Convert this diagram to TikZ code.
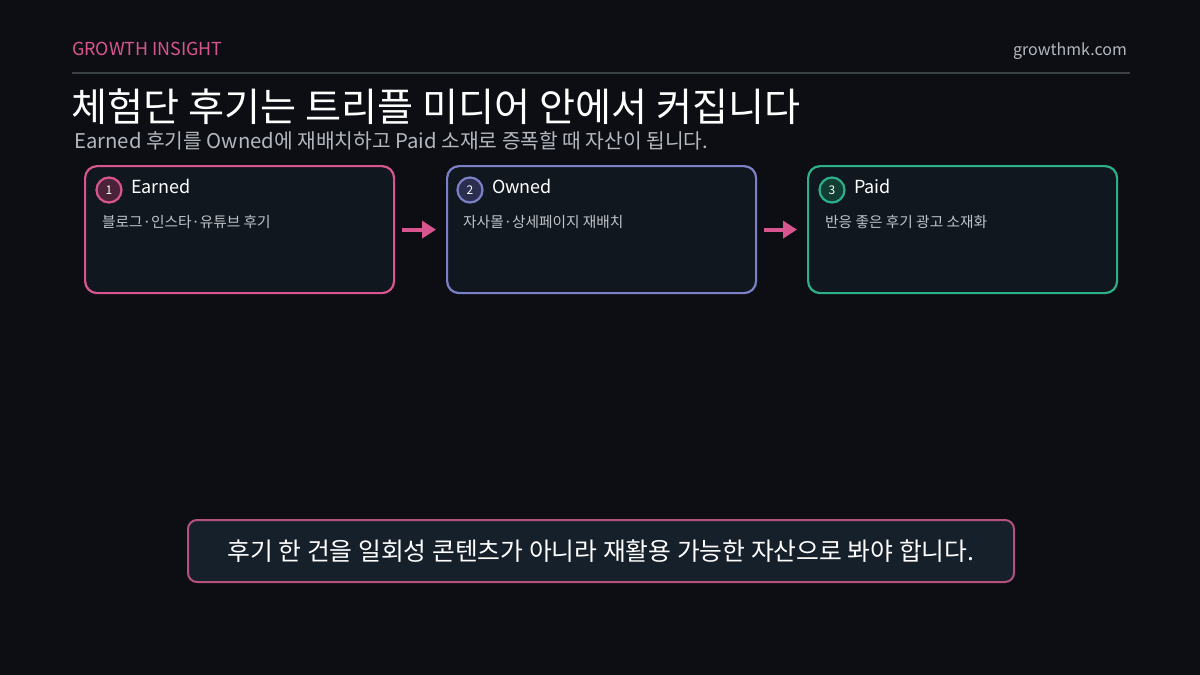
\documentclass[tikz,border=0pt]{standalone}
\usepackage{fontspec}
\setmainfont{Noto Sans CJK KR}
\usetikzlibrary{arrows.meta}
\definecolor{bgc}{HTML}{0C0E13}
\definecolor{boxfill}{HTML}{11171E}
\definecolor{pinkc}{HTML}{D9558F}
\definecolor{bluec}{HTML}{7C80C6}
\definecolor{greenc}{HTML}{2DB089}
\definecolor{pinkd}{HTML}{4A2339}
\definecolor{blued}{HTML}{2B2E4E}
\definecolor{greend}{HTML}{123D33}
\definecolor{graytxt}{HTML}{B3B8C0}
\definecolor{desctxt}{HTML}{BFC3CA}
\definecolor{rulec}{HTML}{3A3E45}
\definecolor{notefill}{HTML}{16202B}
\definecolor{noteborder}{HTML}{B5507F}
\tikzset{
  x=1pt, y=-1pt,
  card/.style={draw=#1, line width=2.2pt, rounded corners=12pt, fill=boxfill, minimum width=309pt, minimum height=127pt, inner sep=0pt},
  numc/.style={circle, draw=#1, line width=2.2pt, minimum size=25pt, inner sep=0pt, text=white, font=\fontsize{12}{12}\selectfont},
  ctitle/.style={anchor=base west, text=white, font=\fontsize{18}{18}\selectfont, inner sep=0pt},
  cdesc/.style={anchor=base west, text=desctxt, font=\fontsize{14.7}{14.7}\selectfont, inner sep=0pt},
  flow/.style={draw=pinkc, line width=4pt, -{Triangle[length=14pt,width=17pt]}},
}
\begin{document}
\begin{tikzpicture}
\fill[bgc] (0,0) rectangle (1200,675);
\useasboundingbox (0,0) rectangle (1200,675);
% header
\node[anchor=base west, inner sep=0pt, text=pinkc, font=\fontsize{17.9}{17.9}\selectfont] (brand) at (72,55) {GROWTH INSIGHT};
\node[anchor=base east, inner sep=0pt, text=graytxt, font=\fontsize{16}{16}\selectfont] (site) at (1127,55) {growthmk.com};
\coordinate (rl) at (72,73);
\coordinate (rr) at (1130,73);
\draw[rulec, line width=2pt] (rl) -- (rr);
\node[anchor=base west, inner sep=0pt, text=white, font=\fontsize{39.2}{39.2}\selectfont] (title) at (71,121) {체험단 후기는 트리플 미디어 안에서 커집니다};
\node[anchor=base west, inner sep=0pt, text=graytxt, font=\fontsize{20.3}{20.3}\selectfont] (sub) at (74,148) {Earned 후기를 Owned에 재배치하고 Paid 소재로 증폭할 때 자산이 됩니다.};
% cards
\node[card=pinkc, anchor=north west] (c1) at (84,165) {};
\node[card=bluec, anchor=north west] (c2) at (446,165) {};
\node[card=greenc, anchor=north west] (c3) at (807,165) {};
\node[numc=pinkc, fill=pinkd] (n1) at (109,190) {1};
\node[numc=bluec, fill=blued] (n2) at (470,190) {2};
\node[numc=greenc, fill=greend] (n3) at (832,190) {3};
\node[ctitle] (t1) at (131,193) {Earned};
\node[ctitle] (t2) at (492,193) {Owned};
\node[ctitle] (t3) at (854,193) {Paid};
\node[cdesc] (d1) at (102,227) {블로그·인스타·유튜브 후기};
\node[cdesc] (d2) at (463,227) {자사몰·상세페이지 재배치};
\node[cdesc] (d3) at (825,227) {반응 좋은 후기 광고 소재화};
\draw[flow, shorten <=7pt, shorten >=10pt] (c1.east) -- (c2.west);
\draw[flow, shorten <=7pt, shorten >=10pt] (c2.east) -- (c3.west);
% note
\node[draw=noteborder, line width=2pt, rounded corners=9pt, fill=notefill, minimum width=826pt, minimum height=62pt, inner sep=0pt, anchor=north west] (note) at (187,519) {};
\node[text=white, font=\fontsize{24.8}{24.8}\selectfont, inner sep=0pt] (notetxt) at (note.center) {후기 한 건을 일회성 콘텐츠가 아니라 재활용 가능한 자산으로 봐야 합니다.};
\end{tikzpicture}
\end{document}
